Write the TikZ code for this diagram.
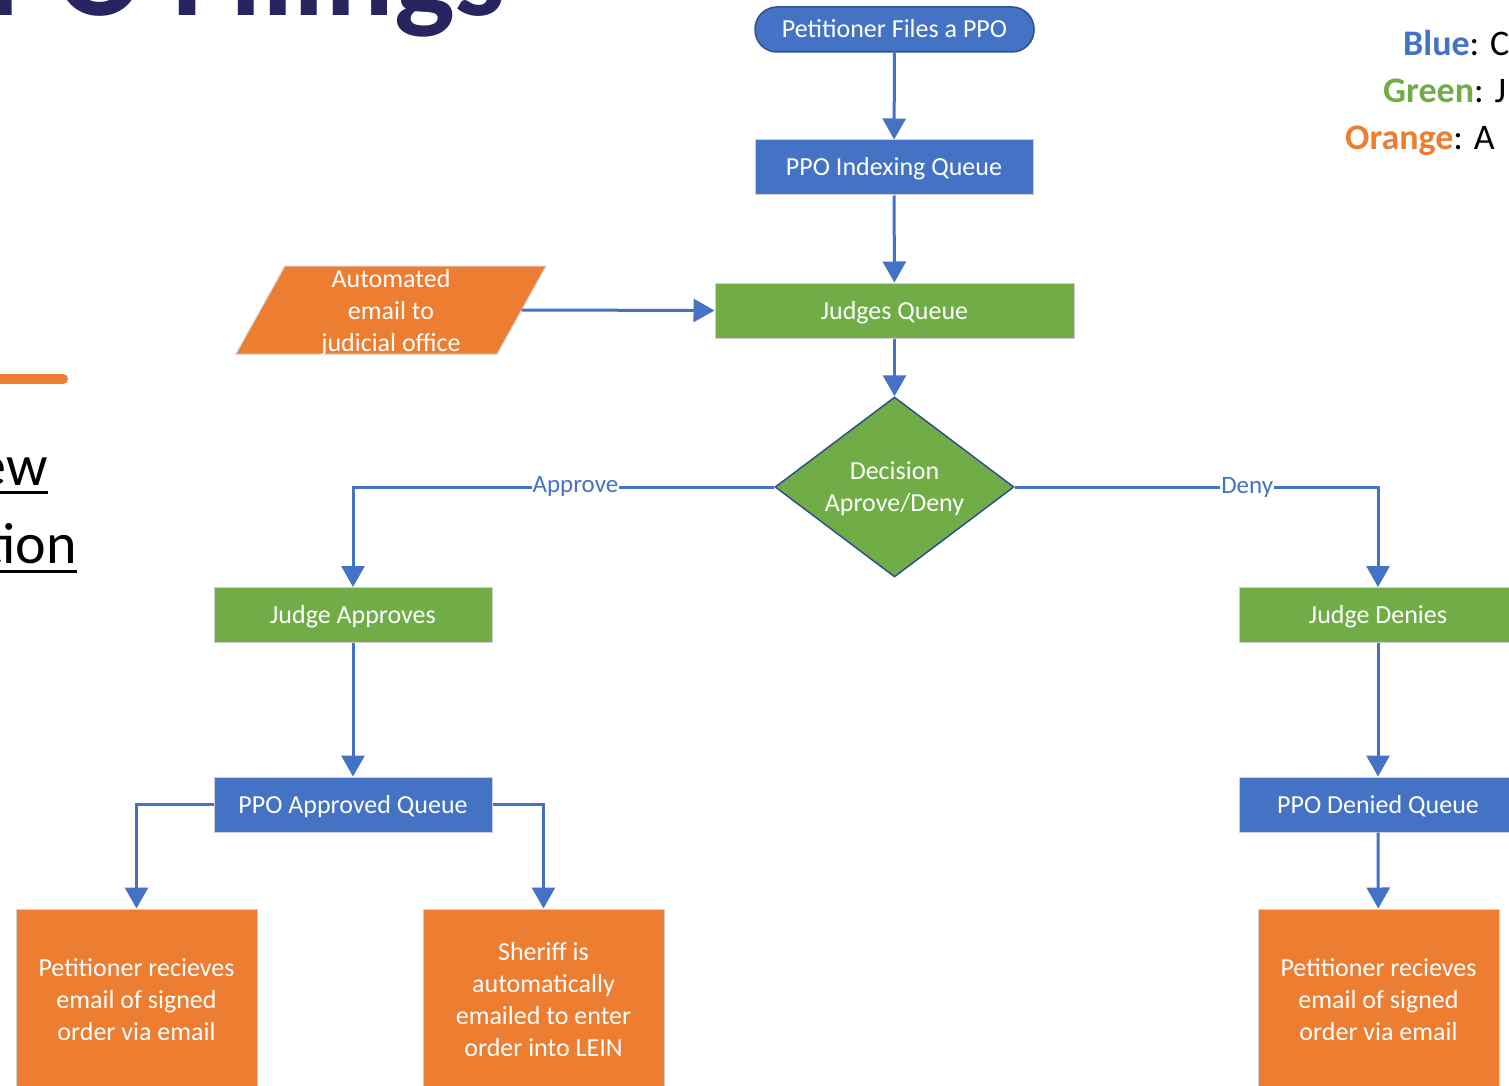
\documentclass[tikz,border=0pt]{standalone}
\usepackage{fontspec}
\setmainfont{Carlito}
\usetikzlibrary{shapes.geometric,arrows.meta}
\definecolor{cblue}{HTML}{4472C4}
\definecolor{cgreen}{HTML}{70AD47}
\definecolor{corange}{HTML}{ED7D31}
\definecolor{cdark}{HTML}{2F528F}
\definecolor{cnavy}{HTML}{28245F}
\definecolor{cedge}{HTML}{D0D0D0}
\tikzset{
  boxbase/.style={rectangle, draw=cedge, line width=1pt, text=white, align=center, inner sep=0pt,
    font=\fontsize{26}{32}\selectfont},
  oneline/.style={text height=20pt, text depth=3pt},
  bluebox/.style={boxbase, oneline, fill=cblue, minimum width=278pt, minimum height=55pt},
  greenbox/.style={boxbase, oneline, fill=cgreen, minimum width=278pt, minimum height=55pt},
  orangebox/.style={boxbase, fill=corange, minimum width=241pt, minimum height=181pt},
  arr/.style={draw=cblue, line width=3pt, -{Triangle[length=21pt,width=23pt]}},
  lbl/.style={fill=white, text=cblue, inner sep=1pt, font=\fontsize{25}{30}\selectfont},
  legend/.style={anchor=base west, inner sep=0pt, font=\fontsize{36}{40}\selectfont},
}
\begin{document}
\begin{tikzpicture}[x=1pt,y=-1pt]
\useasboundingbox (0,0) rectangle (1509,1086);
\clip (0,0) rectangle (1509,1086);
\fill[white] (0,0) rectangle (1509,1086);

% slide background fragments
\node[anchor=base east, inner sep=0pt, text=cnavy, font=\fontsize{128}{130}\selectfont\bfseries] (title) at (506,16) {PPO Filings};
\draw[corange, line width=10pt, line cap=round] (-10,379) -- (63,379);
\node[anchor=base east, inner sep=0pt, font=\fontsize{58}{64}\selectfont] (w1) at (48,485) {ew};
\node[anchor=base east, inner sep=0pt, font=\fontsize{58}{64}\selectfont] (w2) at (77,563) {tion};
\draw[black, line width=3pt] (0,492) -- (48,492);
\draw[black, line width=3pt] (0,571) -- (77,571);
\node[legend] (lb) at (1403,56) {\textbf{\color{cblue}Blue}: C};
\node[legend] (lg) at (1383,103) {\textbf{\color{cgreen}Green}: J};
\node[legend] (lo) at (1345,150) {\textbf{\color{corange}Orange}: A};

% nodes
\node[rectangle, rounded corners=22pt, fill=cblue, draw=cdark, line width=1.5pt, text=white,
  minimum width=279pt, minimum height=45pt, inner sep=0pt, oneline, font=\fontsize{26}{32}\selectfont] (start) at (894.5,29.5) {Petitioner Files a PPO};
\node[bluebox] (idx) at (894,167.5) {PPO Indexing Queue};
\node[greenbox, minimum width=359pt] (jq) at (894.5,310.5) {Judges Queue};

\filldraw[fill=corange, draw=cedge, line width=1pt] (285,266) -- (546,266) -- (497,354) -- (236,354) -- cycle;
\coordinate (parar) at (521.5,310);
\node[text=white, align=center, inner sep=0pt, font=\fontsize{26}{32}\selectfont] (para) at (391,313) {Automated\\email to\\judicial office};

\node[diamond, fill=cgreen, draw=cdark, line width=1.5pt, inner sep=0pt,
  minimum width=239pt, minimum height=180pt, aspect=1.33] (dec) at (894.5,487) {};
\node[text=white, align=center, inner sep=0pt, font=\fontsize{26}{32}\selectfont] (dectext) at (894.5,489) {Decision\\Aprove/Deny};

\node[greenbox] (ja) at (353,615) {Judge Approves};
\node[greenbox] (jd) at (1378,615) {Judge Denies};
\node[bluebox] (aq) at (353,804.5) {PPO Approved Queue};
\node[bluebox] (dq) at (1378,804.5) {PPO Denied Queue};

\node[orangebox] (p1) at (136.5,999.5) {Petitioner recieves\\email of signed\\order via email};
\node[orangebox] (sh) at (543.5,999.5) {Sheriff is\\automatically\\emailed to enter\\order into LEIN};
\node[orangebox] (p2) at (1378.5,999.5) {Petitioner recieves\\email of signed\\order via email};

% connectors
\draw[arr] (start) -- (idx);
\draw[arr] (idx) -- (jq);
\draw[arr] (parar) -- (jq.west);
\draw[arr] (jq) -- (dec.north);
\draw[arr] (dec.west) -| node[lbl, pos=0.236, yshift=1pt] {Approve} (ja.north);
\draw[arr] (dec.east) -| node[lbl, pos=0.32] {Deny} (jd.north);
\draw[arr] (ja) -- (aq);
\draw[arr] (jd) -- (dq);
\draw[arr] (aq.west) -| (p1.north);
\draw[arr] (aq.east) -| (sh.north);
\draw[arr] (dq) -- (p2);
\end{tikzpicture}
\end{document}
